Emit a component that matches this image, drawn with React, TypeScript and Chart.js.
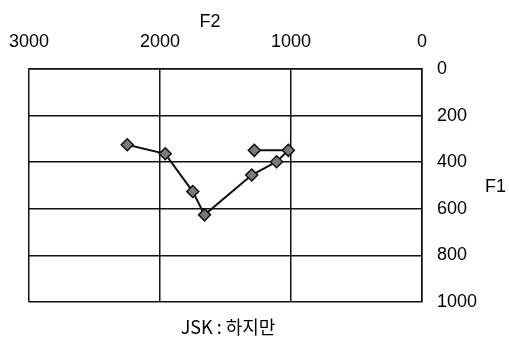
import React, { useEffect, useRef } from "react";
import { Chart, registerables } from "chart.js";

Chart.register(...registerables);

const f2Values = [1280, 1020, 1110, 1300, 1660, 1750, 1960, 2250];
const f1Values = [349, 349, 398, 455, 626, 526, 364, 325];
const f2Ticks = [3000, 2000, 1000, 0];
const f1Ticks = [0, 200, 400, 600, 800, 1000];
const xTitle = "F2";
const yTitle = "F1";
const caption = "JSK : 하지만";

const FONT = "'Liberation Sans', Arial, sans-serif";

export default function App() {
  const ref = useRef<HTMLCanvasElement | null>(null);
  useEffect(() => {
    if (!ref.current) return;
    const textPlugin = {
      id: "extraText",
      afterDraw(chart: any) {
        const ctx = chart.ctx;
        ctx.save();
        ctx.fillStyle = "#000";
        ctx.font = `18px ${FONT}`;
        ctx.textAlign = "center";
        ctx.textBaseline = "middle";
        ctx.fillText(xTitle, 210, 22);
        ctx.textAlign = "left";
        ctx.fillText(yTitle, 485, 187);
        ctx.textAlign = "center";
        ctx.font = `18px 'Noto Sans CJK KR', ${FONT}`;
        ctx.fillText(caption, 228, 327);
        ctx.restore();
      },
    };
    const chart = new Chart(ref.current, {
      type: "scatter",
      data: {
        datasets: [
          {
            data: f2Values.map((x, i) => ({ x, y: f1Values[i] })),
            showLine: true,
            borderColor: "#111",
            borderWidth: 2,
            pointStyle: "rectRot",
            pointRadius: 6,
            pointBackgroundColor: "#7a7a7a",
            pointBorderColor: "#111",
            pointBorderWidth: 1.5,
          },
        ],
      },
      options: {
        animation: false,
        responsive: false,
        devicePixelRatio: 1,
        layout: { padding: { left: 29, right: 0, top: 0, bottom: 41 } },
        plugins: { legend: { display: false }, tooltip: { enabled: false } },
        scales: {
          x: {
            type: "linear",
            position: "top",
            reverse: true,
            min: 0,
            max: 3000,
            afterFit: (s: any) => {
              s.height = 69;
              s.paddingLeft = 0;
              s.paddingRight = 0;
            },
            afterBuildTicks: (s: any) => {
              s.ticks = f2Ticks.map((v) => ({ value: v }));
            },
            grid: { color: "#111", lineWidth: 1.5, drawTicks: false },
            border: { display: true, color: "#111", width: 1.5 },
            ticks: {
              padding: 16,
              color: "#000",
              font: { size: 18, family: FONT },
              maxRotation: 0,
              callback: (v: any) => String(v),
            },
          },
          y: {
            type: "linear",
            position: "right",
            reverse: true,
            min: 0,
            max: 1000,
            afterFit: (s: any) => {
              s.width = 87;
              s.paddingTop = 0;
              s.paddingBottom = 0;
            },
            afterBuildTicks: (s: any) => {
              s.ticks = f1Ticks.map((v) => ({ value: v }));
            },
            grid: { color: "#111", lineWidth: 1.5, drawTicks: false },
            border: { display: true, color: "#111", width: 1.5 },
            ticks: {
              padding: 15,
              color: "#000",
              font: { size: 18, family: FONT },
              callback: (v: any) => String(v),
            },
          },
        },
      },
      plugins: [textPlugin],
    });
    return () => chart.destroy();
  }, []);
  return (
    <div style={{ position: "fixed", left: 0, top: 0, width: 509, height: 343, background: "#fff" }}>
      <canvas ref={ref} width={509} height={343} style={{ width: 509, height: 343 }} />
    </div>
  );
}
